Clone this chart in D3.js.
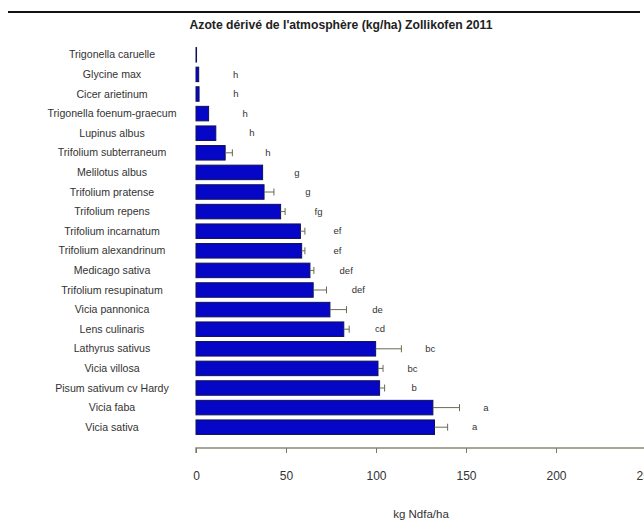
<!DOCTYPE html>
<html>
<head>
<meta charset="utf-8">
<script src="https://cdn.jsdelivr.net/npm/d3@7"></script>
<style>
  html, body { margin: 0; padding: 0; background: #fff; }
  svg { display: block; font-family: "Liberation Sans", Arial, sans-serif; }
</style>
</head>
<body>
<svg id="chart" width="644" height="522"></svg>
<script>
// Nitrogen derived from the atmosphere, Zollikofen 2011 (kg Ndfa/ha), mean ± SE
const species = [
  "Trigonella caruelle", "Glycine max", "Cicer arietinum", "Trigonella foenum-graecum",
  "Lupinus albus", "Trifolium subterraneum", "Melilotus albus", "Trifolium pratense",
  "Trifolium repens", "Trifolium incarnatum", "Trifolium alexandrinum", "Medicago sativa",
  "Trifolium resupinatum", "Vicia pannonica", "Lens culinaris", "Lathyrus sativus",
  "Vicia villosa", "Pisum sativum cv Hardy", "Vicia faba", "Vicia sativa"
];
const ndfa = [0.3, 1.5, 1.7, 7, 11, 16.2, 37, 37.8, 47, 58, 58.7, 63.3, 65.1, 74.4, 82.1, 99.8, 101.1, 102, 131.6, 132.5];
const se   = [0, 0, 0, 0, 0, 4, 0, 5.5, 2.5, 2.5, 1.8, 2.2, 7.4, 9.2, 3, 14.3, 2.8, 2.8, 14.8, 7.3];
const groups = ["", "h", "h", "h", "h", "h", "g", "g", "fg", "ef", "ef", "def", "def", "de", "cd", "bc", "bc", "b", "a", "a"];
const xTicks = [0, 50, 100, 150, 200, 250];

const svg = d3.select("#chart");
const margin = { left: 196, right: -2, top: 45, bottom: 86 };
const W = 644, H = 522;

const x = d3.scaleLinear().domain([0, 250]).range([margin.left, W - margin.right]);
const y = d3.scaleBand().domain(species).range([margin.top, 437]).paddingInner(0.26).paddingOuter(0.13);

const rows = species.map((s, i) => ({ s, m: ndfa[i], e: se[i], g: groups[i] }));

// rule across the top of the figure
svg.append("line").attr("x1", 8).attr("x2", 640).attr("y1", 12).attr("y2", 12)
  .attr("stroke", "#111").attr("stroke-width", 2.2);

// title
svg.append("text").attr("x", 341).attr("y", 29).attr("text-anchor", "middle")
  .attr("font-size", 12.2).attr("font-weight", "bold").attr("fill", "#222")
  .text("Azote dérivé de l'atmosphère (kg/ha) Zollikofen 2011");

// bars
svg.append("g").selectAll("rect").data(rows).join("rect")
  .attr("x", x(0))
  .attr("y", d => y(d.s))
  .attr("width", d => x(d.m) - x(0))
  .attr("height", y.bandwidth())
  .attr("fill", "#0606c6")
  .attr("stroke", "#10105a")
  .attr("stroke-width", 1);

// error bars
const eb = svg.append("g").attr("stroke", "#6a6a50").attr("stroke-width", 1);
rows.filter(d => d.e > 0).forEach(d => {
  const cy = y(d.s) + y.bandwidth() / 2;
  eb.append("line").attr("x1", x(d.m)).attr("x2", x(d.m + d.e)).attr("y1", cy).attr("y2", cy);
  eb.append("line").attr("x1", x(d.m + d.e)).attr("x2", x(d.m + d.e)).attr("y1", cy - 3.5).attr("y2", cy + 3.5);
});

// significance letters
svg.append("g").selectAll("text").data(rows.filter(d => d.g)).join("text")
  .attr("x", d => {
    const end = x(d.m + d.e);
    return end + 37 - (end - x(0)) * 0.04;
  })
  .attr("y", d => y(d.s) + y.bandwidth() / 2 + 3.2)
  .attr("text-anchor", "middle")
  .attr("font-size", 9.5).attr("fill", "#333")
  .text(d => d.g);

// category labels, centred in the left margin
svg.append("g").selectAll("text").data(rows).join("text")
  .attr("x", 112)
  .attr("y", d => y(d.s) + y.bandwidth() / 2 + 3.6)
  .attr("text-anchor", "middle")
  .attr("font-size", 10.6).attr("fill", "#333")
  .text(d => d.s);

// x axis
const axis = svg.append("g").attr("transform", "translate(0,448)")
  .call(d3.axisBottom(x).tickValues(xTicks).tickSize(5).tickPadding(18).tickFormat(d3.format("d")));
axis.select(".domain").attr("stroke", "#8a8a78").attr("stroke-width", 1.5)
  .attr("d", `M${x(0)},5V0H${x(250)}`);
axis.selectAll(".tick line").attr("stroke", "#777");
axis.selectAll(".tick text").attr("font-size", 12).attr("fill", "#333")
  .attr("font-family", "Liberation Sans, Arial, sans-serif");

// axis title
svg.append("text").attr("x", 421).attr("y", 518).attr("text-anchor", "middle")
  .attr("font-size", 11.5).attr("fill", "#333").text("kg Ndfa/ha");
</script>
</body>
</html>
